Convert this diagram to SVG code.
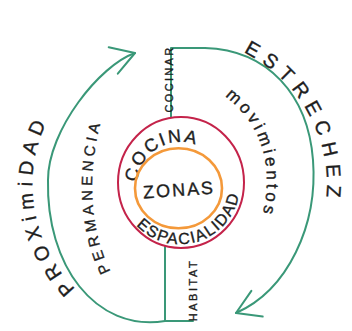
<svg xmlns="http://www.w3.org/2000/svg" width="352" height="331" viewBox="0 0 352 331">
  <style>
    .t { font-family: "Liberation Sans", Arial, sans-serif; fill: #1e1e1e; stroke: #1e1e1e; stroke-width: 0.35; }
    .green { fill: none; stroke: #3a9878; stroke-width: 2; stroke-linecap: round; stroke-linejoin: round; }
    .red { fill: none; stroke: #c4234a; stroke-width: 2; }
    .orange { fill: none; stroke: #f4993a; stroke-width: 2.6; }
  </style>
  <defs>
    <marker id="arrow" markerUnits="userSpaceOnUse" markerWidth="40" markerHeight="40" viewBox="-30 -20 35 40" refX="0" refY="0" orient="auto" overflow="visible">
      <path d="M-23,-14 L0,0 L-23,14" fill="none" stroke="#3a9878" stroke-width="2" stroke-linecap="round" stroke-linejoin="round"/>
    </marker>
    <path id="p-est" d="M218,43 A147,147 0 0 1 319.8,230.4"/>
    <path id="p-prox" d="M106.5,312.3 A146,146 0 0 1 70.8,86.6"/>
    <path id="p-perm" d="M122,290 C85,240 85,160 108,100"/>
    <path id="p-mov" d="M205,85 C260,110 285,170 252,245"/>
    <path id="p-cocina" d="M137.2,188.7 A43,43 0 0 1 205.9,150.7"/>
    <path id="p-espa" d="M126.9,212.2 A60,60 0 0 0 239.6,177.7"/>
  </defs>

  <g id="connectors">
    <path class="green" d="M171,117 L171,48 L205,48 C268,50 308,95 313,160 C318,225 288,290 236,313" marker-end="url(#arrow)"/>
    <path class="green" d="M165,246 L165,321"/>
    <path class="green" d="M193,321 L165,321 C95,332 46,265 48,180 C48,130 100,65 135,53" marker-end="url(#arrow)"/>
  </g>

  <g id="cocina-espacialidad">
    <ellipse class="red" cx="181" cy="182.5" rx="63" ry="65.5"/>
    <text class="t" font-size="18" letter-spacing="2"><textPath href="#p-cocina" startOffset="48%" text-anchor="middle">COCINA</textPath></text>
    <text class="t" font-size="16" letter-spacing="1.5"><textPath href="#p-espa" startOffset="50%" text-anchor="middle">ESPACIALIDAD</textPath></text>
  </g>

  <g id="zonas">
    <ellipse class="orange" cx="178.5" cy="188.3" rx="43.5" ry="40"/>
    <text class="t" x="179" y="196" font-size="18" letter-spacing="2" text-anchor="middle" transform="rotate(-4 179 190)">ZONAS</text>
  </g>

  <g id="label-cocinar">
    <text class="t" font-size="11" letter-spacing="2.3" text-anchor="middle" transform="translate(173,79) rotate(-90)">COCINAR</text>
  </g>
  <g id="label-habitat">
    <text class="t" font-size="11" letter-spacing="2.5" text-anchor="middle" transform="translate(197,290) rotate(-90)">HABITAT</text>
  </g>

  <g id="label-estrechez">
    <text class="t" font-size="20" letter-spacing="7"><textPath href="#p-est" startOffset="50%" text-anchor="middle">ESTRECHEZ</textPath></text>
  </g>
  <g id="label-movimientos">
    <text class="t" font-size="17" letter-spacing="3.5"><textPath href="#p-mov" startOffset="48%" text-anchor="middle">movimientos</textPath></text>
  </g>
  <g id="label-proximidad">
    <text class="t" font-size="20" letter-spacing="6"><textPath href="#p-prox" startOffset="50%" text-anchor="middle">PROXimiDAD</textPath></text>
  </g>
  <g id="label-permanencia">
    <text class="t" font-size="15" letter-spacing="4"><textPath href="#p-perm" startOffset="50%" text-anchor="middle">PERMANENCIA</textPath></text>
  </g>
</svg>
